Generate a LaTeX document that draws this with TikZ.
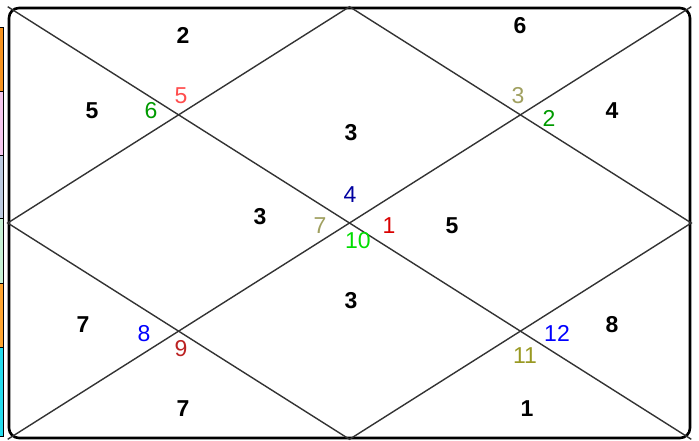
\documentclass[tikz,border=0pt]{standalone}
\usepackage{fontspec}
\setmainfont{Liberation Sans}
\usepackage{xcolor}
\usepackage{tikz}

\definecolor{signred}{HTML}{FF4D4D}
\definecolor{signgreen}{HTML}{009A00}
\definecolor{signkhaki}{HTML}{A0A060}
\definecolor{signnavy}{HTML}{0000A0}
\definecolor{signlime}{HTML}{00DD00}
\definecolor{signblue}{HTML}{0000FF}
\definecolor{signmaroon}{HTML}{BB2222}
\definecolor{signolive}{HTML}{999922}
\definecolor{tabA}{HTML}{F7931E}
\definecolor{tabB}{HTML}{F6C8EE}
\definecolor{tabC}{HTML}{BCCBE0}
\definecolor{tabD}{HTML}{C6F2D4}
\definecolor{tabE}{HTML}{FFA530}
\definecolor{tabF}{HTML}{22DDEE}

\begin{document}
\begin{tikzpicture}[x=1pt,y=-1pt,
  house/.style={font=\bfseries\fontsize{23}{23}\selectfont,inner sep=0pt},
  sign/.style={font=\fontsize{23}{23}\selectfont,inner sep=0pt},
  grid/.style={draw=black!80,line width=1.4pt},
  tab/.style={draw=black,line width=0.6pt}]
  \useasboundingbox (0,0) rectangle (699,441);
  % strips on the left edge
  \filldraw[tab,fill=tabA] (-3,27) rectangle (3,91);
  \filldraw[tab,fill=tabB] (-3,91) rectangle (3,155);
  \filldraw[tab,fill=tabC] (-3,155) rectangle (3,218);
  \filldraw[tab,fill=tabD] (-3,218) rectangle (3,283);
  \filldraw[tab,fill=tabE] (-3,283) rectangle (3,347);
  \filldraw[tab,fill=tabF] (-3,347) rectangle (3,436);
  % chart frame
  \node[draw,line width=2.6pt,rounded corners=10pt,minimum width=681pt,minimum height=430pt,inner sep=0pt] (frame) at (349.5,223) {};
  \coordinate (tm) at (frame.north);
  \coordinate (bm) at (frame.south);
  \coordinate (lm) at (frame.west);
  \coordinate (rm) at (frame.east);
  \draw[grid] (frame.north west) -- (frame.south east);
  \draw[grid] (frame.north east) -- (frame.south west);
  \draw[grid] (tm) -- (rm) -- (bm) -- (lm) -- cycle;
  % house numbers
  \node[house] (h1) at (183,35) {2};
  \node[house] (h2) at (92,111) {5};
  \node[house] (h3) at (351,133) {3};
  \node[house] (h4) at (260,217) {3};
  \node[house] (h5) at (452,226) {5};
  \node[house] (h6) at (351,301) {3};
  \node[house] (h7) at (83,325) {7};
  \node[house] (h8) at (183,409) {7};
  \node[house] (h9) at (520,26) {6};
  \node[house] (h10) at (612,111) {4};
  \node[house] (h11) at (612,325) {8};
  \node[house] (h12) at (527,409) {1};
  % sign numbers
  \node[sign,text=signred] (s5) at (181,96) {5};
  \node[sign,text=signgreen] (s6) at (151,111) {6};
  \node[sign,text=signkhaki] (s3) at (518,96) {3};
  \node[sign,text=signgreen] (s2) at (549,118) {2};
  \node[sign,text=signnavy] (s4) at (350,195) {4};
  \node[sign,text=signkhaki] (s7) at (320,226) {7};
  \node[sign,text=red!85!black] (s1) at (389,226) {1};
  \node[sign,text=signlime] (s10) at (358,241) {10};
  \node[sign,text=signblue] (s8) at (144,334) {8};
  \node[sign,text=signmaroon] (s9) at (181,349) {9};
  \node[sign,text=signblue] (s12) at (557,333) {12};
  \node[sign,text=signolive] (s11) at (525,356) {11};
\end{tikzpicture}
\end{document}
